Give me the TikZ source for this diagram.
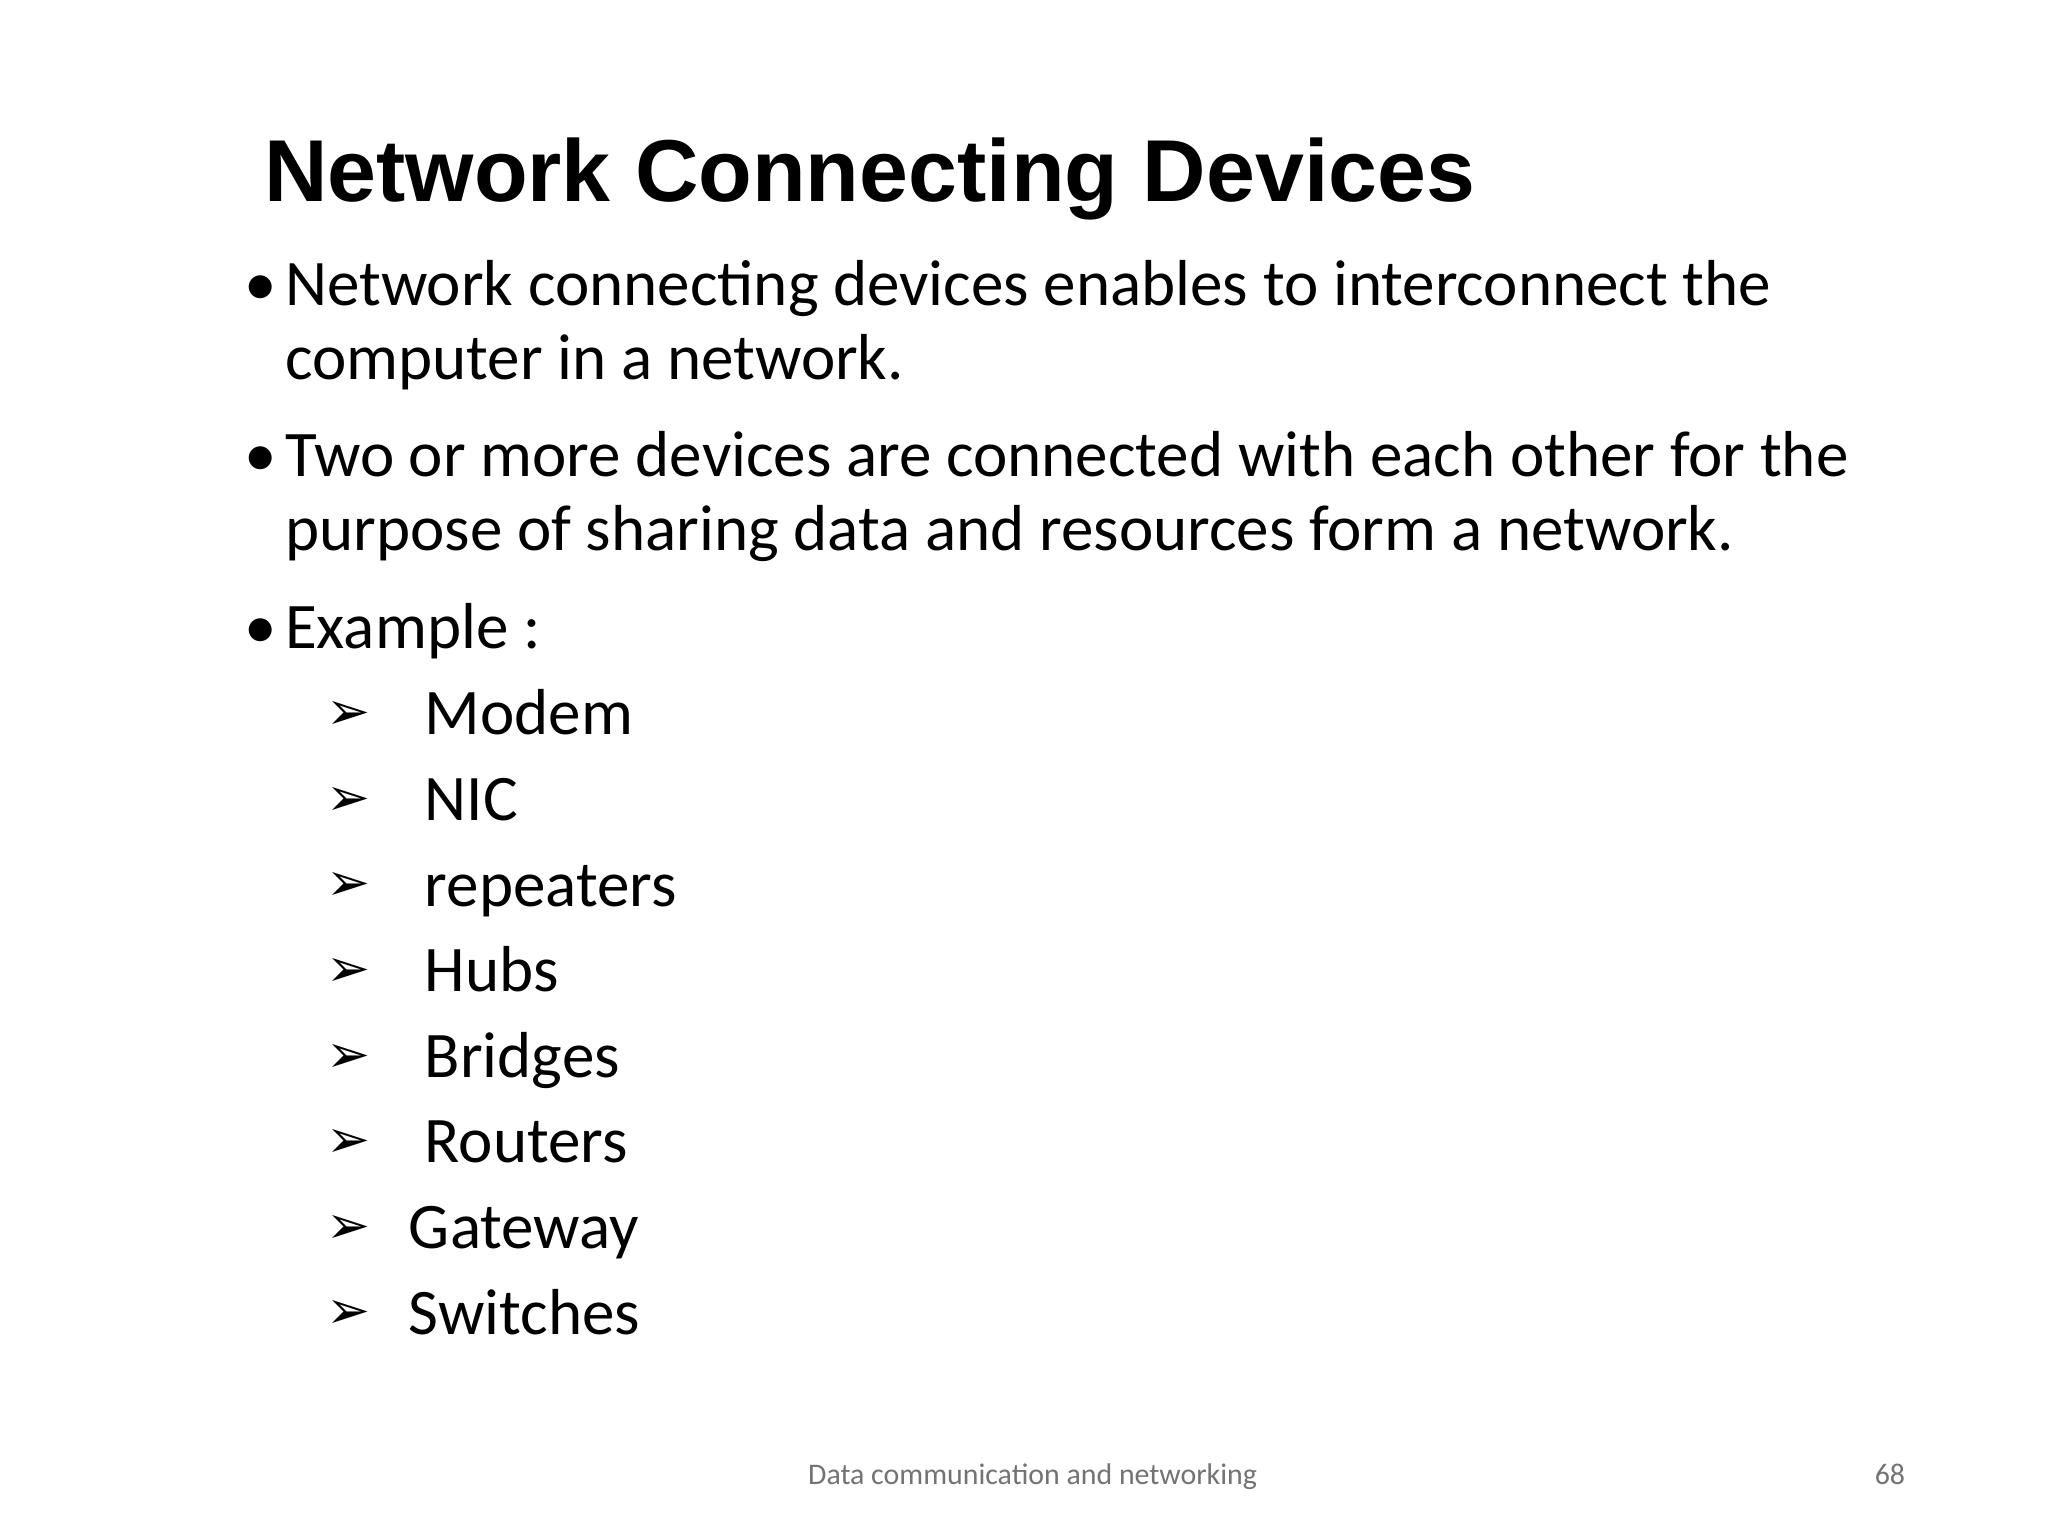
\documentclass[tikz,border=0pt]{standalone}
\usepackage{fontspec}
\setmainfont{Carlito}
\newfontfamily\titlefont{Liberation Sans}
\newfontfamily\symfont{DejaVu Sans}
\begin{document}
\begin{tikzpicture}[x=0.01317cm,y=-0.01317cm,
  body/.style={anchor=base west,inner sep=0pt,font=\fontsize{18.5}{22}\selectfont},
  bul/.style={anchor=base west,inner sep=0pt,font=\fontsize{18.5}{22}\selectfont},
  arr/.style={anchor=base west,inner sep=0pt,font=\symfont\fontsize{15}{18}\selectfont}]
\useasboundingbox (0,0) rectangle (1555,1166);
\fill[white] (0,0) rectangle (1555,1166);
\node[anchor=base west,inner sep=0pt,font=\titlefont\bfseries\fontsize{25}{30}\selectfont] (title) at (200,153) {Network Connecting Devices};
\node[bul] (b1) at (185,232) {•};
\node[body] (t1) at (216,232) {Network connecting devices enables to interconnect the};
\node[body] (t1b) at (216,288) {computer in a network.};
\node[bul] (b2) at (185,362) {•};
\node[body] (t2) at (216,362) {Two or more devices are connected with each other for the};
\node[body] (t2b) at (216,418) {purpose of sharing data and resources form a network.};
\node[bul] (b3) at (185,492) {•};
\node[body] (t3) at (216,492) {Example :};
\foreach \y/\t/\xx [count=\i] in {558/Modem/322,623/NIC/322,688/repeaters/322,753/Hubs/322,818/Bridges/322,883/Routers/322,948/Gateway/310,1013/Switches/310}{
  \node[arr] (a\i) at (247,\y-4) {➢};
  \node[body] (e\i) at (\xx,\y) {\t};
}
\node[anchor=base,inner sep=0pt,text=gray!90!black,font=\fontsize{8.5}{10}\selectfont] (foot) at (784,1127) {Data communication and networking};
\node[anchor=base,inner sep=0pt,text=gray!90!black,font=\fontsize{8.5}{10}\selectfont] (num) at (1435,1127) {68};
\end{tikzpicture}
\end{document}
